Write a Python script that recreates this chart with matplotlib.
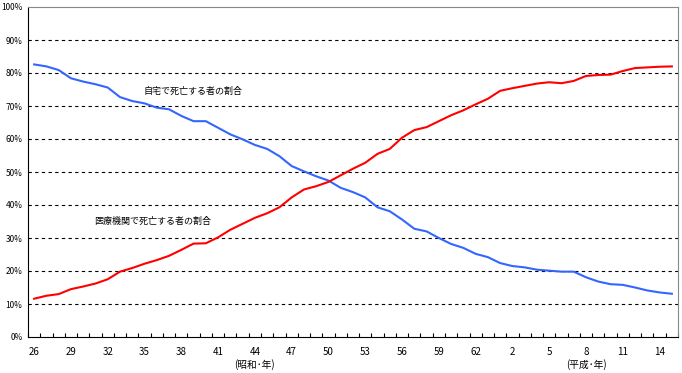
import matplotlib
matplotlib.use('Agg')
import matplotlib.pyplot as plt
import numpy as np
from matplotlib.ticker import FixedLocator, FuncFormatter
from matplotlib.transforms import blended_transform_factory

plt.rcParams['font.family'] = ['Noto Sans CJK JP', 'DejaVu Sans']

# 1951 (昭和26) .. 2003 (平成15), one value per year, percent
home = [82.6, 82.0, 80.9, 78.4, 77.4, 76.6, 75.6, 72.7, 71.5, 70.8,
        69.5, 69.0, 67.0, 65.4, 65.4, 63.4, 61.4, 59.9, 58.2, 57.0,
        54.8, 51.8, 50.2, 48.7, 47.4, 45.2, 43.9, 42.3, 39.3, 38.1,
        35.6, 32.8, 32.0, 30.0, 28.2, 27.0, 25.2, 24.2, 22.4, 21.5,
        21.1, 20.4, 20.1, 19.8, 19.8, 18.1, 16.8, 16.0, 15.8, 15.0,
        14.1, 13.5, 13.1]
hospital = [11.6, 12.5, 13.0, 14.5, 15.3, 16.2, 17.5, 19.8, 20.9, 22.2,
            23.3, 24.6, 26.4, 28.3, 28.4, 30.2, 32.5, 34.3, 36.1, 37.5,
            39.3, 42.3, 44.7, 45.7, 47.0, 49.0, 51.0, 52.8, 55.5, 57.0,
            60.4, 62.7, 63.6, 65.4, 67.2, 68.7, 70.5, 72.2, 74.6, 75.4,
            76.1, 76.8, 77.2, 76.9, 77.6, 79.1, 79.4, 79.5, 80.6, 81.5,
            81.7, 81.9, 82.0]
years = list(range(26, 64)) + list(range(1, 16))  # 昭和26-63, 平成1-15
home_label = '自宅で死亡する者の割合'
hospital_label = '医療機関で死亡する者の割合'

x = np.arange(len(home))

fig = plt.figure(figsize=(6.82, 3.73), dpi=100)
ax = fig.add_axes([28 / 682, 36 / 373, 650 / 682, 330 / 373])

ax.plot(x, home, color='#3366ff', lw=1.5)
ax.plot(x, hospital, color='#ff0000', lw=1.5)

ax.set_xlim(-0.5, len(x) - 0.5)
ax.set_ylim(0, 100)

for v in range(10, 100, 10):
    ax.axhline(v, color='black', lw=0.8, ls=(0, (3, 3)), zorder=0)

ax.set_yticks(range(0, 101, 10))
ax.yaxis.set_major_formatter(FuncFormatter(lambda v, p: '%d%%' % v))
ax.tick_params(axis='y', length=0, pad=4, labelsize=6)

major = x[::3]
ax.set_xticks(major)
ax.set_xticklabels([str(years[i]) for i in major])
ax.xaxis.set_minor_locator(FixedLocator(np.arange(-0.5, len(x), 1)))
ax.tick_params(axis='x', which='major', length=0, pad=7, labelsize=7)
ax.tick_params(axis='x', which='minor', direction='in', length=3, width=0.8)

for side in ('top', 'right'):
    ax.spines[side].set_color('#888888')
for side in ('left', 'bottom'):
    ax.spines[side].set_color('black')

tr = blended_transform_factory(ax.transData, ax.transAxes)
ax.text(18, -0.066, '(昭和･年)', transform=tr, ha='center', va='top', fontsize=7)
ax.text(45, -0.066, '(平成･年)', transform=tr, ha='center', va='top', fontsize=7)

ax.text(8.9, 74.5, home_label, fontsize=6.5, va='center')
ax.text(4.9, 35.0, hospital_label, fontsize=6.5, va='center')

fig.savefig('out.png', dpi=100)
plt.close(fig)
